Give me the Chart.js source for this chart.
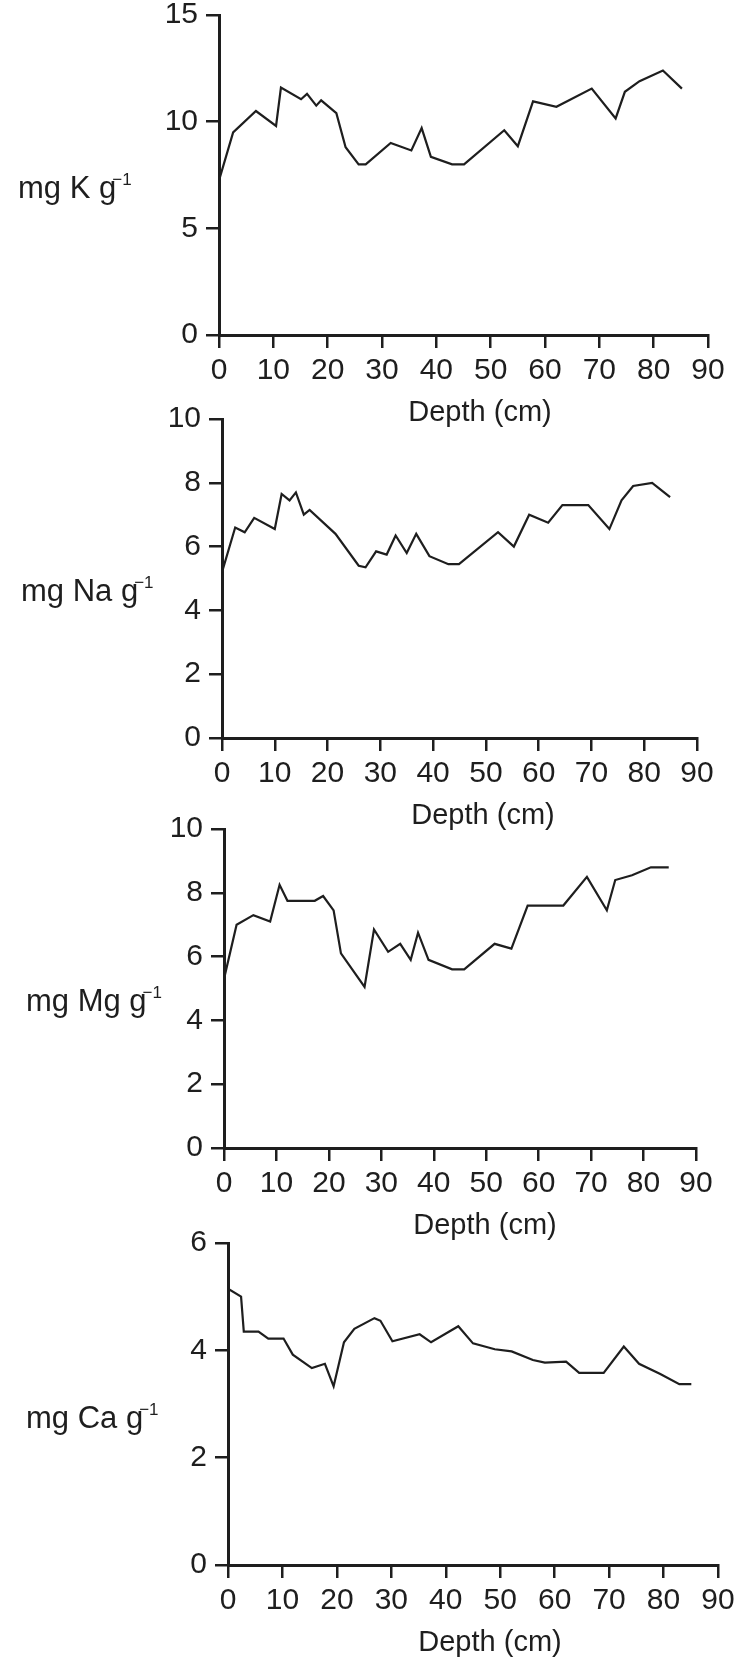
<!DOCTYPE html>
<html>
<head>
<meta charset="utf-8">
<script src="https://cdn.jsdelivr.net/npm/chart.js@4.4.1/dist/chart.umd.min.js"></script>
<style>
	html, body { margin: 0; padding: 0; background: #fff; }
	#page { position: relative; width: 740px; height: 1662px; overflow: hidden; }
	#page canvas { position: absolute; left: 0; }
</style>
</head>
<body>
<div id="page"></div>
<script>

/*
 * DATA
 */
const depthTicks = [0, 10, 20, 30, 40, 50, 60, 70, 80, 90];

const depthK = [0, 2.6, 6.8, 10.5, 11.4, 15.1, 16.2, 17.9, 18.8, 21.6, 23.3, 25.7, 27, 31.6, 35.4, 37.3, 39, 42.9, 45.1, 52.5, 55, 57.8, 62.1, 68.6, 73, 74.7, 77.4, 81.7, 85.2];
const valuesK = [7.25, 9.5, 10.5, 9.8, 11.6, 11.05, 11.3, 10.75, 11.0, 10.4, 8.8, 8.0, 8.0, 9.0, 8.65, 9.7, 8.35, 8.0, 8.0, 9.6, 8.85, 10.95, 10.7, 11.55, 10.15, 11.4, 11.9, 12.4, 11.55];

const depthNa = [0, 2.5, 4.3, 6.1, 10, 11.3, 12.8, 14, 15.5, 16.6, 21.5, 25.9, 27.2, 29.2, 31.2, 32.9, 35, 36.8, 39.3, 42.9, 44.9, 52.3, 55.3, 58.2, 61.8, 64.5, 69.4, 73.4, 75.7, 77.9, 81.5, 84.9];
const valuesNa = [5.2, 6.6, 6.45, 6.9, 6.55, 7.65, 7.45, 7.7, 7.0, 7.15, 6.4, 5.4, 5.35, 5.85, 5.75, 6.35, 5.8, 6.4, 5.7, 5.45, 5.45, 6.45, 6.0, 7.0, 6.75, 7.3, 7.3, 6.55, 7.45, 7.9, 8.0, 7.55];

const depthMg = [0, 2.4, 5.6, 8.8, 10.6, 12.1, 17.3, 18.9, 20.9, 22.3, 26.8, 28.6, 31.3, 33.6, 35.6, 37, 39, 43.5, 45.8, 51.6, 54.8, 57.9, 64.7, 69.2, 73, 74.6, 77.8, 81.4, 84.8];
const valuesMg = [5.3, 7.0, 7.3, 7.1, 8.25, 7.75, 7.75, 7.9, 7.45, 6.1, 5.05, 6.85, 6.15, 6.4, 5.9, 6.75, 5.9, 5.6, 5.6, 6.4, 6.25, 7.6, 7.6, 8.5, 7.45, 8.4, 8.55, 8.8, 8.8];

const depthCa = [0, 2.4, 2.9, 5.6, 7.4, 10.2, 11.9, 15.4, 17.8, 19.4, 21.3, 23.2, 26.9, 28, 30.2, 35.2, 37.3, 42.3, 45, 49, 52.1, 56, 58.2, 62.1, 64.5, 69, 72.7, 75.5, 79.4, 82.9, 85.1];
const valuesCa = [5.15, 5.0, 4.35, 4.35, 4.22, 4.22, 3.92, 3.67, 3.75, 3.33, 4.15, 4.4, 4.6, 4.55, 4.17, 4.3, 4.15, 4.45, 4.13, 4.02, 3.98, 3.82, 3.77, 3.79, 3.58, 3.58, 4.07, 3.75, 3.56, 3.37, 3.37];

const elements = ['K', 'Na', 'Mg', 'Ca'];
const yMaxes = [15, 10, 10, 6];
const ySteps = [5, 2, 2, 2];
const xTitle = 'Depth (cm)';


/*
 * LAYOUT (pixel boxes of each panel's axes on the page)
 */
const layout = [
	{ left: 219, right: 708, top: 15,   bottom: 335,  titleX: 18, depthX: 480 },
	{ left: 222, right: 697, top: 419,  bottom: 738,  titleX: 21, depthX: 483 },
	{ left: 224, right: 696, top: 829,  bottom: 1148, titleX: 26, depthX: 485 },
	{ left: 228, right: 718, top: 1243, bottom: 1565, titleX: 26, depthX: 490 }
];

const ink = '#1e1e1e';
const fontFamily = '"Liberation Sans", Arial, sans-serif';
const PAD_TOP = 30;
const BELOW = 100;
const Y_BOX = 70;
const X_BOX = 50;


// draws the horizontal y title (with superscript) and the depth title
const panelLabels = {
	id: 'panelLabels',
	afterDraw(chart, args, opts) {
		const ctx = chart.ctx;
		const area = chart.chartArea;
		ctx.save();
		ctx.fillStyle = ink;
		ctx.textBaseline = 'alphabetic';

		ctx.textAlign = 'left';
		ctx.font = '31px ' + fontFamily;
		const main = 'mg ' + opts.element + ' g';
		const base = area.bottom - 137;
		ctx.fillText(main, opts.titleX, base);
		const w = ctx.measureText(main).width;
		ctx.font = '17px ' + fontFamily;
		ctx.fillText('\u22121', opts.titleX + w - 4, base - 13);

		ctx.textAlign = 'center';
		ctx.font = '29px ' + fontFamily;
		ctx.fillText(xTitle, opts.depthX, area.bottom + 86);
		ctx.restore();
	}
};


const series = [
	[depthK, valuesK],
	[depthNa, valuesNa],
	[depthMg, valuesMg],
	[depthCa, valuesCa]
];

const page = document.getElementById('page');

series.forEach(([depth, values], i) => {
	const box = layout[i];
	const canvas = document.createElement('canvas');
	const height = (box.bottom + BELOW) - (box.top - PAD_TOP);
	canvas.width = 740;
	canvas.height = height;
	canvas.style.top = (box.top - PAD_TOP) + 'px';
	canvas.style.width = '740px';
	canvas.style.height = height + 'px';
	page.appendChild(canvas);

	const points = depth.map((d, j) => ({ x: d, y: values[j] }));

	const axisCommon = {
		grid: {
			display: true,
			drawOnChartArea: false,
			drawTicks: true,
			tickLength: 13,
			tickWidth: 2.5,
			tickColor: ink,
			color: ink,
			lineWidth: 2.5
		},
		border: { display: true, color: ink, width: 3 }
	};

	new Chart(canvas, {
		type: 'line',
		data: {
			datasets: [{
				data: points,
				borderColor: ink,
				borderWidth: 2.2,
				pointRadius: 0,
				tension: 0,
				fill: false
			}]
		},
		options: {
			responsive: false,
			animation: false,
			devicePixelRatio: 1,
			layout: {
				padding: {
					top: PAD_TOP,
					left: box.left - Y_BOX,
					right: 740 - box.right,
					bottom: BELOW - X_BOX
				}
			},
			plugins: {
				legend: { display: false },
				tooltip: { enabled: false },
				panelLabels: { element: elements[i], titleX: box.titleX, depthX: box.depthX }
			},
			scales: {
				x: {
					...axisCommon,
					type: 'linear',
					min: 0,
					max: 90,
					afterBuildTicks: scale => { scale.ticks = depthTicks.map(v => ({ value: v })); },
					afterFit: scale => { scale.height = X_BOX; },
					ticks: {
						padding: 5,
						color: ink,
						font: { family: fontFamily, size: 30 },
						maxRotation: 0
					}
				},
				y: {
					...axisCommon,
					type: 'linear',
					min: 0,
					max: yMaxes[i],
					afterFit: scale => { scale.width = Y_BOX; },
					ticks: {
						stepSize: ySteps[i],
						padding: 8,
						color: ink,
						font: { family: fontFamily, size: 30 }
					}
				}
			}
		},
		plugins: [panelLabels]
	});
});

</script>
</body>
</html>
